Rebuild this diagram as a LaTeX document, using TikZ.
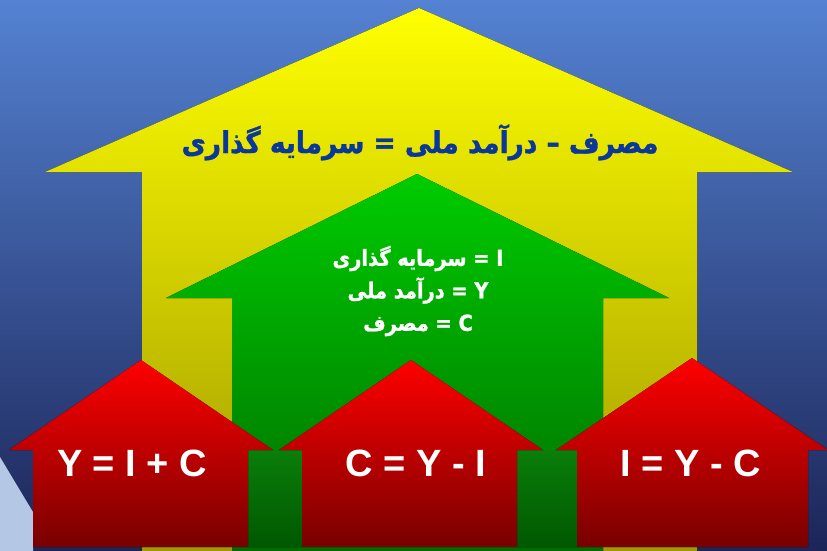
\documentclass[tikz,border=0pt]{standalone}
\usepackage{fontspec}
\setmainfont{Liberation Sans}
\newfontfamily\farsi[Script=Arabic,FakeStretch=0.88,FakeBold=1.2]{DejaVu Sans Bold}
\TeXXeTstate=1
\definecolor{bgtop}{HTML}{5482D2}
\definecolor{bgmid}{HTML}{30488F}
\definecolor{bgbot}{HTML}{1C2558}
\definecolor{yellowtop}{HTML}{FFFF00}
\definecolor{yellowbot}{HTML}{A09A00}
\definecolor{greentop}{HTML}{00CC00}
\definecolor{greenbot}{HTML}{006C00}
\definecolor{redtop}{HTML}{FF0000}
\definecolor{redbot}{HTML}{780000}
\definecolor{gaptop}{HTML}{0A7E0A}
\definecolor{gapbot}{HTML}{005800}
\definecolor{titleblue}{HTML}{0A389A}
\definecolor{streak}{HTML}{B4C8E6}
\begin{document}
\begin{tikzpicture}[x=1pt,y=-1pt,
  % shapes: every fill runs light at the top to dark at the bottom
  backdrop/.style={top color=bgtop, middle color=bgmid, bottom color=bgbot},
  yarrow/.style={top color=yellowtop, bottom color=yellowbot},
  garrow/.style={top color=greentop, bottom color=greenbot},
  house/.style={top color=redtop, bottom color=redbot},
  gap/.style={top color=gaptop, bottom color=gapbot},
  % texts
  title/.style={font=\farsi\fontsize{30}{36}\selectfont, text=titleblue,
                inner sep=0pt, anchor=base},
  defs/.style={font=\farsi\fontsize{22}{32.5}\selectfont, text=white,
               align=center, inner sep=0pt},
  eq/.style={font=\bfseries\fontsize{38}{40}\selectfont, text=white,
             inner sep=0pt, anchor=base},
  ]
  \useasboundingbox (0,0) rectangle (827,551);
  \clip (0,0) rectangle (827,551);
  % ---- background ---------------------------------------------------------------
  \fill[backdrop] (0,0) rectangle (827,551);
  \fill[streak] (0,457) -- (33,512) -- (33,551) -- (0,551) -- cycle;
  % ---- the two up-arrows ---------------------------------------------------------
  \fill[yarrow] (419,8) -- (793,172) -- (697,172) -- (697,551)
    -- (142,551) -- (142,172) -- (45,172) -- cycle;
  \fill[garrow] (417,174) -- (669,298) -- (603,298) -- (603,551)
    -- (232,551) -- (232,298) -- (166,298) -- cycle;
  % ---- the three houses and the green gaps between them --------------------------
  \fill[gap] (248,450) rectangle (302,547);
  \fill[gap] (517,450) rectangle (577,547);
  \fill[house] (141,360) -- (273,450) -- (248,450) -- (248,547)
    -- (33,547) -- (33,450) -- (9,450) -- cycle;
  \fill[house] (411,360) -- (543,450) -- (517,450) -- (517,547)
    -- (302,547) -- (302,450) -- (279,450) -- cycle;
  \fill[house] (692,358) -- (828,450) -- (808,450) -- (808,547)
    -- (577,547) -- (577,450) -- (556,450) -- cycle;
  % ---- texts ---------------------------------------------------------------------
  \node[title] (title) at (420,153) {\beginR مصرف – درآمد ملی = سرمایه گذاری\endR};
  \node[defs] (defs) at (418,291) {\beginR I = سرمایه گذاری\endR\\
    \beginR Y = درآمد ملی\endR\\ \beginR C = مصرف\endR};
  \node[eq] (eqY) at (132,476) {Y = I + C};
  \node[eq] (eqC) at (416,476) {C = Y - I};
  \node[eq] (eqI) at (691,476) {I = Y - C};
\end{tikzpicture}
\end{document}
